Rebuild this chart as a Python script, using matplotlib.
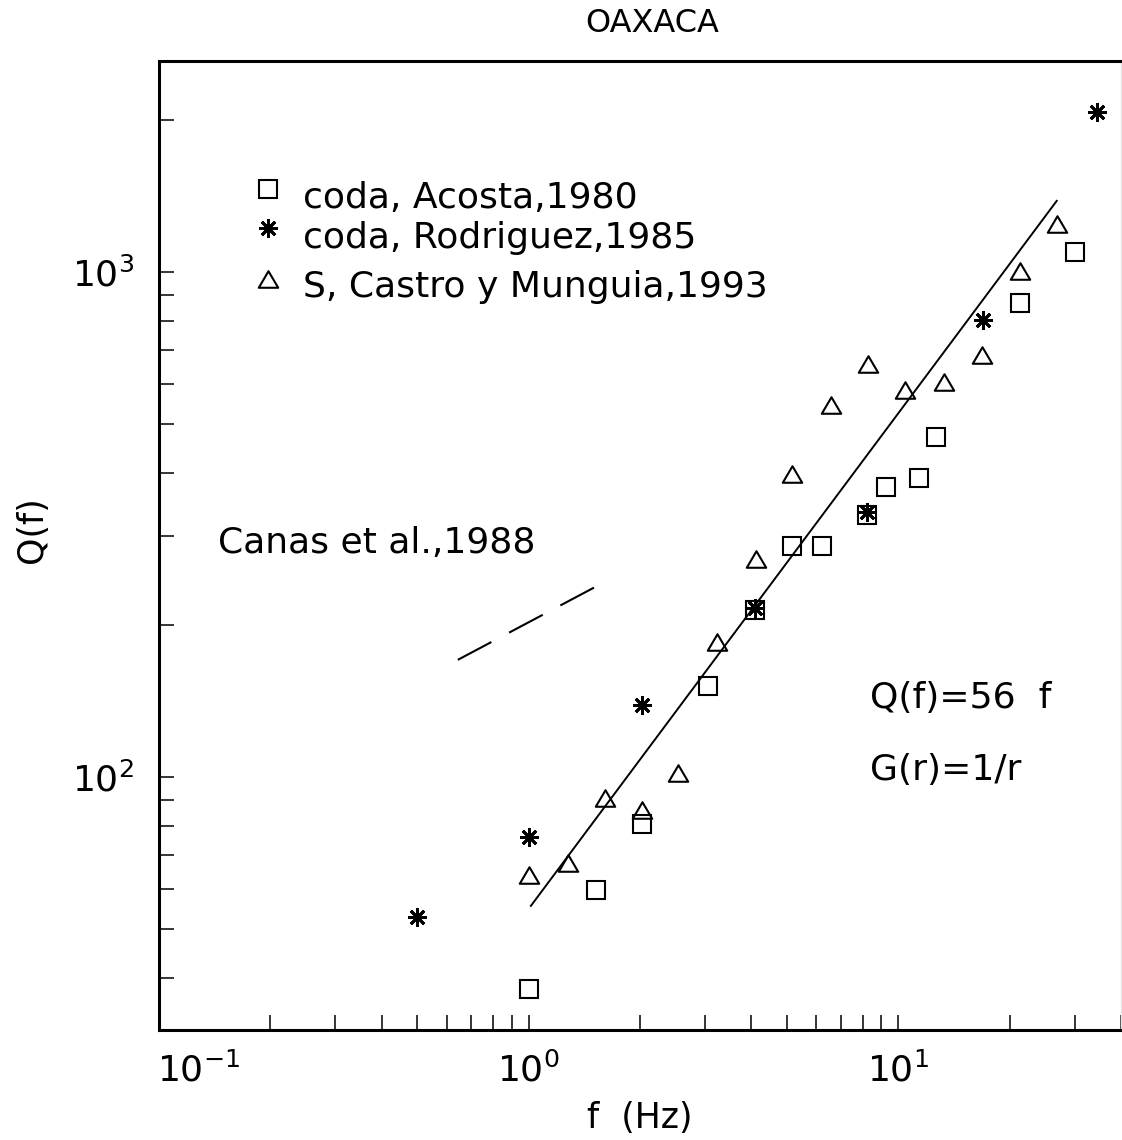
import matplotlib
matplotlib.use('Agg')
import matplotlib.pyplot as plt
from matplotlib.ticker import LogLocator, NullFormatter
from matplotlib.path import Path
import matplotlib.transforms as mtransforms

plt.rcParams['font.family'] = ['DejaVu Sans']
plt.rcParams['mathtext.fontset'] = 'dejavusans'

# ---- data ----
acosta_f = [1.0, 1.52, 2.02, 3.05, 4.1, 5.17, 6.2, 8.23, 9.28, 11.4, 12.6, 21.3, 30.1]
acosta_q = [38, 59.7, 80.7, 151, 214, 287, 287, 330, 375, 391, 471, 868, 1096]

rodriguez_f = [0.5, 1.0, 2.03, 4.1, 8.23, 16.9, 34.4]
rodriguez_q = [52.8, 76.1, 139, 216, 334, 803, 2074]

castro_f = [1.0, 1.275, 1.605, 2.02, 2.54, 3.24, 4.13, 5.17, 6.59, 8.29, 10.4, 13.25, 16.8, 21.3, 26.9]
castro_q = [64, 67.6, 90.9, 86, 101.8, 185, 270, 398, 546, 657, 584, 606, 684, 1005, 1245]

fit_f = [1.01, 26.9]
fit_q = [55.3, 1389]

canas_f = [0.643, 1.517]
canas_q = [170.5, 238]

x_ticks = [0.1, 1, 10]
y_ticks = [100, 1000]

legend_labels = ['coda, Acosta,1980', 'coda, Rodriguez,1985', 'S, Castro y Munguia,1993']

W, H = 1122, 1140
fig = plt.figure(figsize=(W / 100, H / 100), dpi=100)


def fx(px):
    return px / W


def fy(py):
    return 1 - py / H


ax = fig.add_axes([fx(159), fy(1030), (1121 - 159) / W, (1030 - 61) / H])
ax.set_xscale('log')
ax.set_yscale('log')
ax.set_xlim(0.1, 40)
ax.set_ylim(31.5, 2620)

tri = Path([(-1, -0.85), (1, -0.85), (0, 0.85), (-1, -0.85)],
           [Path.MOVETO, Path.LINETO, Path.LINETO, Path.CLOSEPOLY])

sq_kw = dict(marker='s', ms=13, mfc='none', mec='black', mew=1.5, ls='none')
ast_kw = dict(marker=(8, 2, 0), ms=13.5, mec='black', mew=2.0, ls='none')
tri_kw = dict(marker=tri, ms=14, mfc='none', mec='black', mew=1.5, ls='none')

ax.plot(fit_f, fit_q, color='black', lw=1.4, solid_capstyle='butt')
lw_c = 1.5
ax.plot(canas_f, canas_q, color='black', lw=lw_c,
        linestyle=(0, (27.4 / lw_c, 14.4 / lw_c)))
ax.plot(acosta_f, acosta_q, **sq_kw)
ax.plot(rodriguez_f, rodriguez_q, **ast_kw)
ax.plot(castro_f, castro_q, **tri_kw)

# spines & ticks
for s in ['left', 'bottom', 'top']:
    ax.spines[s].set_linewidth(2.2)
ax.spines['right'].set_linewidth(1.0)
ax.spines['right'].set_color('#e6e6e6')

ax.set_xticks(x_ticks)
ax.set_yticks(y_ticks)
ax.xaxis.set_minor_locator(LogLocator(base=10, subs=range(2, 10)))
ax.yaxis.set_minor_locator(LogLocator(base=10, subs=range(2, 10)))
ax.xaxis.set_minor_formatter(NullFormatter())
ax.yaxis.set_minor_formatter(NullFormatter())
ax.tick_params(which='both', direction='in', length=11, width=1.1,
               top=False, right=False, labelsize=26)
ax.tick_params(axis='x', which='major', pad=16)
ax.tick_params(axis='y', which='major', pad=18)

# first x tick label sits to the right of its tick in the original
first = ax.xaxis.get_major_ticks()[0].label1
first.set_transform(first.get_transform() +
                    mtransforms.ScaledTranslation(40 / 100, 0, fig.dpi_scale_trans))

# legend (manual placement)
leg_marker_y = [189, 228, 279]
leg_text_base = [208, 248, 297]
for kw, my, tb, lab in zip([sq_kw, ast_kw, tri_kw], leg_marker_y, leg_text_base, legend_labels):
    fig.lines.append(plt.Line2D([fx(268)], [fy(my)], transform=fig.transFigure, **kw))
    fig.text(fx(303), fy(tb), lab, fontsize=26, va='baseline', ha='left')

fig.text(fx(652), fy(24), 'OAXACA', fontsize=23, ha='center', va='center')
fig.text(fx(218), fy(553), 'Canas et al.,1988', fontsize=26, ha='left', va='baseline')
fig.text(fx(870), fy(708), 'Q(f)=56  f', fontsize=26, ha='left', va='baseline')
fig.text(fx(870), fy(780), 'G(r)=1/r', fontsize=26, ha='left', va='baseline')
fig.text(fx(640), fy(1118), 'f  (Hz)', fontsize=25, ha='center', va='center')
fig.text(fx(32), fy(530), 'Q(f)', fontsize=25, ha='center', va='center', rotation=90)

fig.savefig('out.png', dpi=100)
